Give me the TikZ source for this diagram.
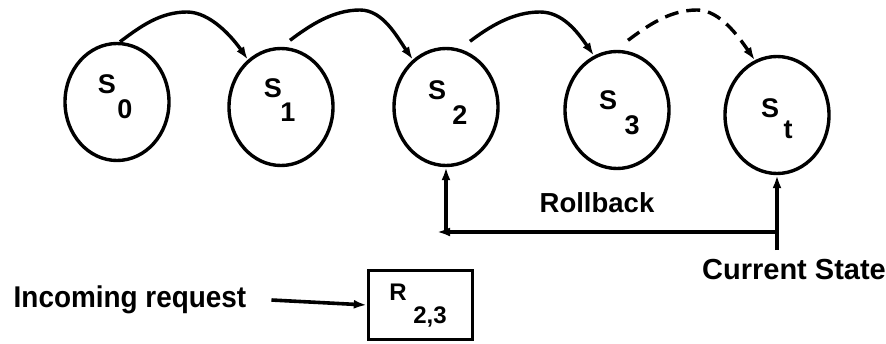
\documentclass[tikz,border=0pt]{standalone}
\usepackage{fontspec}
\setmainfont{Liberation Sans}
\newfontfamily\labfont[FakeStretch=0.93]{Liberation Sans}
\usetikzlibrary{arrows.meta,shapes.geometric,calc}

\begin{document}
\begin{tikzpicture}[x=1pt,y=-1pt,
  state/.style={draw, ellipse, line width=3.4pt, minimum width=104pt,
                minimum height=117pt, inner sep=0pt},
  glyph/.style={font=\bfseries\fontsize{27}{27}\selectfont, inner sep=0pt},
  small glyph/.style={font=\bfseries\fontsize{24}{24}\selectfont, inner sep=0pt},
  tagtext/.style={font=\bfseries\fontsize{#1}{#1}\selectfont, inner sep=0pt},
  narrow tagtext/.style={font=\labfont\bfseries\fontsize{#1}{#1}\selectfont, inner sep=0pt},
  tipstyle/.style={-{Latex[length=13pt,width=9pt]}},
  hop/.style={line width=3.4pt, tipstyle},
  pending/.style={hop, dash pattern=on 14pt off 8pt},
  wire/.style={line width=3.6pt, tipstyle},
  box/.style={draw, line width=3.4pt, minimum width=104pt, minimum height=69pt, inner sep=0pt}]

\useasboundingbox (0,0) rectangle (886,343);

% states
\node[state] (s0) at (117,102) {};
\node[state] (s1) at (281,107) {};
\node[state] (s2) at (446,107) {};
\node[state] (s3) at (617,110) {};
\node[state] (st) at (777,115) {};

% state labels: letter with a dropped index
\node[glyph] (s0a) at (107,84)  {S};  \node[glyph] (s0b) at (125,109) {0};
\node[glyph] (s1a) at (273,88)  {S};  \node[glyph] (s1b) at (288,112) {1};
\node[glyph] (s2a) at (437,90)  {S};  \node[glyph] (s2b) at (460,115) {2};
\node[glyph] (s3a) at (608,100) {S};  \node[glyph] (s3b) at (632,125) {3};
\node[glyph] (sta) at (770,108) {S};  \node[glyph] (stb) at (788,130) {t};

% apexes of the transition arcs
\coordinate (p01) at (187,12);
\coordinate (p12) at (360,10);
\coordinate (p23) at (540,12);
\coordinate (p3t) at (697,10);

% transitions
\draw[hop] ([xshift=3pt]s0.north) .. controls +(20,-15) and +(-27,0) .. (p01)
           .. controls +(23,0) and +(-16,-23) .. (s1.125);
\draw[hop] ([xshift=9pt,yshift=6.5pt]s1.north) .. controls +(20,-15) and +(-27,0) .. (p12)
           .. controls +(23,0) and +(-16,-23) .. (s2.125);
\draw[hop] ([xshift=24pt,yshift=5.5pt]s2.north) .. controls +(20,-15) and +(-27,0) .. (p23)
           .. controls +(23,0) and +(-16,-23) .. (s3.113);
\draw[pending] ([xshift=11pt,yshift=9.5pt]s3.north) .. controls +(20,-15) and +(-27,0) .. (p3t)
           .. controls +(23,0) and +(-16,-23) .. (st.112);

% rollback path
\node[tagtext=27.5] (rbl) at (597,203) {Rollback};
\node[tagtext=29] (cur) at (794,270) {Current State};
\coordinate (rbend) at (437,232);
\coordinate (csfoot) at (777,250);
\draw[wire] (csfoot) -- (st.south);
\draw[wire] (st.south |- rbend) -- (rbend);
\draw[wire] (s2.south |- rbend) -- (s2.south);

% incoming request
\node[box] (req) at (420.5,305) {};
\node[small glyph] (reqa) at (398,292) {R};
\node[small glyph] (reqb) at (430,317) {2,3};
\node[narrow tagtext=30] (inc) at (130,300) {Incoming request};
\draw[wire] ([xshift=25pt]inc.east) -- (req.west);

\end{tikzpicture}
\end{document}
